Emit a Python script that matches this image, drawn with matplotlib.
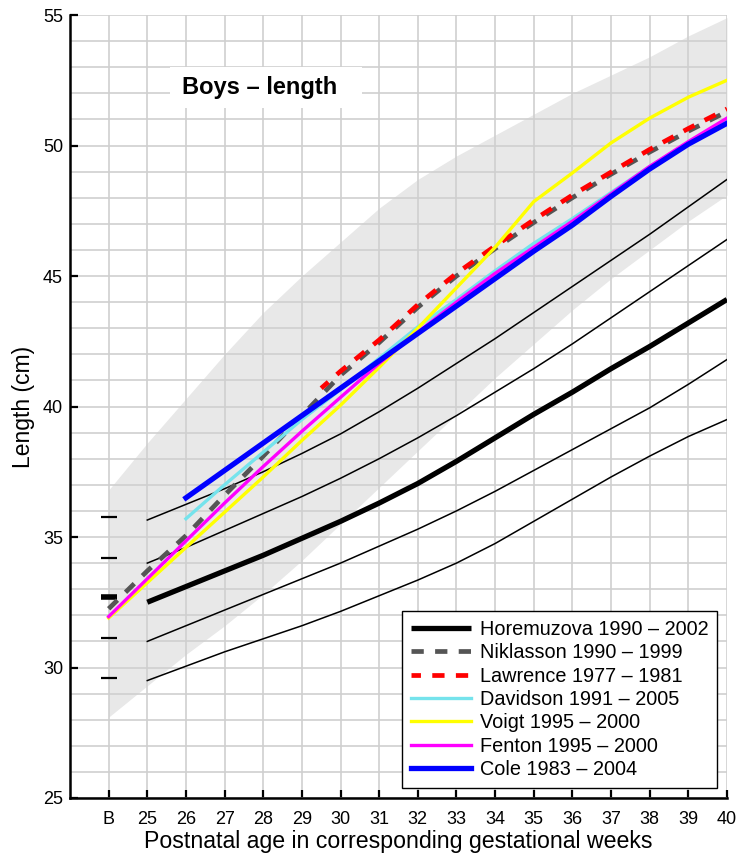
import numpy as np
import matplotlib
matplotlib.use("Agg")
import matplotlib.pyplot as plt
from matplotlib.patches import Rectangle
from matplotlib.ticker import MultipleLocator

plt.rcParams['font.family'] = ['Liberation Sans', 'DejaVu Sans']

# ---------------- data ----------------
tick_weeks = list(range(24, 41))               # 24 stands for "B" (birth)
tick_labels = ['B'] + [str(w) for w in range(25, 41)]

band_weeks = list(range(24, 41))
band_upper = [36.8, 38.6, 40.3, 42.0, 43.6, 45.0, 46.3, 47.6, 48.7, 49.6, 50.4,
              51.2, 52.0, 52.7, 53.4, 54.2, 54.9]
band_lower = [28.1, 29.3, 30.5, 31.6, 32.8, 34.1, 35.5, 36.9, 38.3, 39.7, 41.1,
              42.4, 43.7, 44.9, 46.0, 47.1, 48.1]

hor_weeks = list(range(25, 41))
hor_median = [32.5, 33.1, 33.7, 34.3, 34.95, 35.6, 36.3, 37.05, 37.9, 38.8,
              39.7, 40.55, 41.45, 42.3, 43.2, 44.1]
hor_plus2 = [35.65, 36.25, 36.85, 37.5, 38.2, 38.95, 39.8, 40.7, 41.65, 42.6,
             43.6, 44.6, 45.6, 46.6, 47.65, 48.7]
hor_plus1 = [34.0, 34.6, 35.25, 35.9, 36.55, 37.25, 38.0, 38.8, 39.65, 40.55,
             41.45, 42.4, 43.4, 44.4, 45.4, 46.4]
hor_minus1 = [31.0, 31.6, 32.2, 32.8, 33.4, 34.0, 34.65, 35.3, 36.0, 36.75,
              37.55, 38.35, 39.15, 39.95, 40.85, 41.8]
hor_minus2 = [29.5, 30.05, 30.6, 31.1, 31.6, 32.15, 32.75, 33.35, 34.0, 34.75,
              35.6, 36.45, 37.3, 38.1, 38.85, 39.5]

birth_week = 24
birth_sd_values = [35.75, 34.2, 31.12, 29.58]
birth_median_value = 32.69

niklasson_weeks = list(range(24, 41))
niklasson = [32.25, 33.7, 35.05, 36.6, 38.1, 39.65, 41.2, 42.45, 43.8, 45.0,
             46.05, 47.05, 48.0, 48.9, 49.75, 50.55, 51.3]

lawrence_weeks = [29.5] + list(range(30, 41))
lawrence = [40.7, 41.35, 42.55, 43.9, 45.1, 46.15, 47.15, 48.1, 48.98, 49.85,
            50.65, 51.4]

davidson_weeks = list(range(26, 41))
davidson = [35.7, 37.0, 38.25, 39.5, 40.65, 41.85, 43.05, 44.1, 45.2, 46.25,
            47.2, 48.2, 49.2, 50.1, 50.95]

voigt_weeks = list(range(24, 41))
voigt = [31.9, 33.25, 34.6, 35.95, 37.3, 38.7, 40.05, 41.5, 43.0, 44.55, 46.1,
         47.85, 48.95, 50.1, 51.05, 51.85, 52.5]

fenton_weeks = list(range(24, 41))
fenton = [31.95, 33.4, 34.85, 36.3, 37.7, 39.05, 40.35, 41.65, 42.85, 44.0,
          45.1, 46.1, 47.1, 48.15, 49.2, 50.15, 51.05]

cole_weeks = list(range(26, 41))
cole = [36.5, 37.55, 38.6, 39.65, 40.7, 41.75, 42.8, 43.85, 44.9, 45.95, 46.95,
        48.05, 49.1, 50.05, 50.85]

# ---------------- figure ----------------
fig = plt.figure(figsize=(7.41, 8.61), dpi=100)
ax = fig.add_axes([70 / 741, 1 - 798 / 861, 657 / 741, 783 / 861])

ax.set_xlim(23, 40)
ax.set_ylim(25, 55)
ax.set_axisbelow(True)

ax.fill_between(band_weeks, band_lower, band_upper, color='#e8e8e8',
                lw=0, zorder=0.3)

# Horemuzova reference lines
for vals in (hor_plus2, hor_plus1, hor_minus1, hor_minus2):
    ax.plot(hor_weeks, vals, color='black', lw=1.1, zorder=2)
ax.plot(hor_weeks, hor_median, color='black', lw=3.8, zorder=2,
        label='Horemuzova 1990 – 2002', solid_capstyle='butt')

# birth markers
ax.plot([birth_week] * len(birth_sd_values), birth_sd_values, ls='none',
        marker='_', ms=11, mew=1.6, color='black', zorder=2)
ax.plot([birth_week], [birth_median_value], ls='none', marker='_', ms=11,
        mew=4, color='black', zorder=2)

ax.plot(niklasson_weeks, niklasson, color='#555555', lw=3.4,
        ls=(0, (2.6, 2.4)), label='Niklasson 1990 – 1999', zorder=3)
ax.plot(lawrence_weeks, lawrence, color='#ff0000', lw=3.4,
        ls=(0.6, (2.6, 2.4)), label='Lawrence 1977 – 1981', zorder=3)
ax.plot(davidson_weeks, davidson, color='#75e3ec', lw=2.4,
        label='Davidson 1991 – 2005', zorder=3)
ax.plot(voigt_weeks, voigt, color='#ffff00', lw=2.4,
        label='Voigt 1995 – 2000', zorder=3)
ax.plot(fenton_weeks, fenton, color='#ff00ff', lw=2.4,
        label='Fenton 1995 – 2000', zorder=3)
ax.plot(cole_weeks, cole, color='#0000ff', lw=3.8,
        label='Cole 1983 – 2004', zorder=3)

# axes styling
ax.set_xticks(tick_weeks)
ax.set_xticklabels(tick_labels)
ax.yaxis.set_major_locator(MultipleLocator(5))
ax.yaxis.set_minor_locator(MultipleLocator(1))
ax.xaxis.grid(True, which='major', color='#cfcfcf', lw=1.2)
ax.yaxis.grid(True, which='both', color='#cfcfcf', lw=1.2)
ax.tick_params(axis='both', which='major', direction='in', length=6,
               width=1.6, labelsize=13, colors='black')
ax.tick_params(axis='x', pad=9)
ax.tick_params(axis='y', pad=5)
ax.tick_params(axis='y', which='minor', length=0)
for s in ('top', 'right'):
    ax.spines[s].set_visible(False)
for s in ('left', 'bottom'):
    ax.spines[s].set_linewidth(1.8)
    ax.spines[s].set_zorder(5)

ax.set_xlabel('Postnatal age in corresponding gestational weeks',
              fontsize=16.7, labelpad=2)
ax.set_ylabel('Length (cm)', fontsize=16.5, labelpad=6)

# title box
ax.add_patch(Rectangle((0.152, 0.881), 0.292, 0.053, transform=ax.transAxes,
                       facecolor='white', edgecolor='none', zorder=1))
ax.text(0.288, 0.907, 'Boys – length', transform=ax.transAxes, ha='center',
        va='center', fontsize=17, fontweight='bold', zorder=1.5)

leg = ax.legend(loc='lower right', fontsize=14.3, frameon=True, fancybox=False,
                edgecolor='black', framealpha=1, borderaxespad=0.5,
                handlelength=3, handletextpad=0.45, labelspacing=0.22,
                borderpad=0.45)
leg.get_frame().set_linewidth(1.0)
leg.set_zorder(6)

fig.savefig('out.png', dpi=100)
